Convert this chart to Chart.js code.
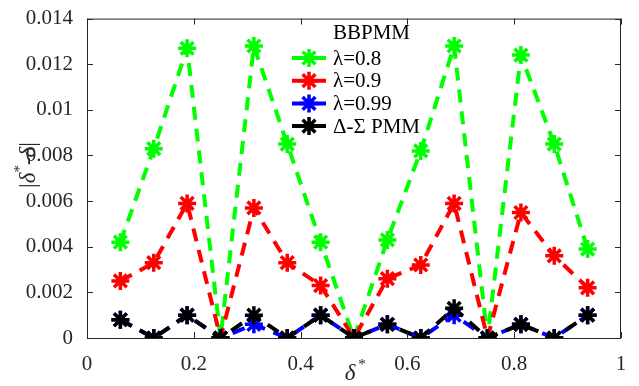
<!DOCTYPE html>
<html>
<head>
<meta charset="utf-8">
<script src="https://cdn.jsdelivr.net/npm/chart.js@4"></script>
<style>
  html, body { margin: 0; padding: 0; background: #fff; }
  #wrap { width: 639px; height: 386px; }
</style>
</head>
<body>
<div id="wrap"><canvas id="c" width="639" height="386"></canvas></div>
<script>
// delta* positions (k/16)
const deltaStar = [0.0625, 0.125, 0.1875, 0.25, 0.3125, 0.375, 0.4375, 0.5,
  0.5625, 0.625, 0.6875, 0.75, 0.8125, 0.875, 0.9375];

// |delta* - delta| for each case
const lambda08 = [0.0042, 0.0083, 0.0127, 0.0, 0.0128, 0.0085, 0.0042, 0.0,
  0.0043, 0.0082, 0.0128, 0.0, 0.0124, 0.0085, 0.0039];
const lambda09 = [0.0025, 0.0033, 0.0059, 0.0, 0.0057, 0.0033, 0.0023, 0.0,
  0.0026, 0.0032, 0.0059, 0.0, 0.0055, 0.0036, 0.0022];
const lambda099 = [0.0008, 0.0, 0.001, 0.0, 0.0006, 0.0, 0.001, 0.0,
  0.0006, 0.0, 0.001, 0.0, 0.0006, 0.0, 0.001];
const deltaSigma = [0.0008, 0.0, 0.001, 0.0, 0.001, 0.0, 0.001, 0.0,
  0.0006, 0.0, 0.0013, 0.0, 0.0006, 0.0, 0.001];

const seriesNames = ['λ=0.8', 'λ=0.9', 'λ=0.99', 'Δ-Σ PMM'];
const seriesColors = ['#00ff00', '#ff0000', '#0000ff', '#000000'];
const legendTitle = 'BBPMM';
const xTickLabels = ['0', '0.2', '0.4', '0.6', '0.8', '1'];

const FONT = '"Times New Roman", "Liberation Serif", Tinos, serif';
const AXIS = '#262626';

const toPoints = (ys) => ys.map((y, i) => ({ x: deltaStar[i], y: y }));

const makeSet = (idx, ys, order) => ({
  label: seriesNames[idx],
  data: toPoints(ys),
  borderColor: seriesColors[idx],
  backgroundColor: seriesColors[idx],
  borderWidth: 4,
  borderDash: [13, 9],
  pointStyle: 'star',
  pointRadius: 9,
  pointBorderWidth: 3.5,
  pointHoverRadius: 9,
  fill: false,
  tension: 0,
  order: order,
});

// frame, inside ticks, axis titles and legend
const matlabLook = {
  id: 'matlabLook',
  afterDraw(chart) {
    const ctx = chart.ctx;
    const a = chart.chartArea;
    const xs = chart.scales.x;
    const ys = chart.scales.y;
    ctx.save();
    ctx.strokeStyle = AXIS;
    ctx.lineWidth = 1;
    ctx.strokeRect(a.left + 0.5, a.top + 0.5, a.right - a.left - 1, a.bottom - a.top);

    const tl = 6;
    ctx.beginPath();
    xs.ticks.forEach((t) => {
      const px = Math.round(xs.getPixelForValue(t.value)) + 0.5;
      ctx.moveTo(px, a.bottom); ctx.lineTo(px, a.bottom - tl);
      ctx.moveTo(px, a.top); ctx.lineTo(px, a.top + tl);
    });
    ys.ticks.forEach((t) => {
      const py = Math.round(ys.getPixelForValue(t.value)) + 0.5;
      ctx.moveTo(a.left, py); ctx.lineTo(a.left + tl, py);
      ctx.moveTo(a.right, py); ctx.lineTo(a.right - tl, py);
    });
    ctx.stroke();

    // x title: delta*
    ctx.fillStyle = AXIS;
    ctx.textBaseline = 'alphabetic';
    ctx.textAlign = 'left';
    const cx = (a.left + a.right) / 2;
    ctx.font = 'italic 23px ' + FONT;
    const dw = ctx.measureText('δ').width;
    ctx.fillText('δ', cx - dw / 2 - 4, 380);
    ctx.font = '15px ' + FONT;
    ctx.fillText('*', cx + dw / 2 - 1, 369);

    // y title: |delta*-delta|
    ctx.save();
    ctx.translate(35, 165);
    ctx.rotate(-Math.PI / 2);
    const parts = [
      { t: '|', f: '23px ' + FONT, dy: 0 },
      { t: 'δ', f: 'italic 23px ' + FONT, dy: 0 },
      { t: '*', f: '15px ' + FONT, dy: -11 },
      { t: '-', f: '23px ' + FONT, dy: 0 },
      { t: 'δ', f: 'italic 23px ' + FONT, dy: 0 },
      { t: '|', f: '23px ' + FONT, dy: 0 },
    ];
    let total = 0;
    parts.forEach((p) => { ctx.font = p.f; p.w = ctx.measureText(p.t).width; total += p.w; });
    let px = -total / 2;
    parts.forEach((p) => {
      ctx.font = p.f;
      ctx.fillText(p.t, px, p.dy);
      px += p.w;
    });
    ctx.restore();

    // legend
    const lx0 = 292, lx1 = 326, tx = 333;
    ctx.font = '21px ' + FONT;
    ctx.fillStyle = '#000';
    ctx.textBaseline = 'middle';
    ctx.fillText(legendTitle, tx, 33);
    chart.data.datasets.forEach((ds, i) => {
      const y = 58 + i * 22.7;
      ctx.strokeStyle = ds.borderColor;
      ctx.lineWidth = 4;
      ctx.setLineDash([]);
      ctx.beginPath();
      ctx.moveTo(lx0, y); ctx.lineTo(lx1, y);
      ctx.stroke();
      ctx.lineWidth = 3.5;
      Chart.helpers.drawPoint(ctx, { pointStyle: 'star', radius: 9, borderWidth: 3.5 }, (lx0 + lx1) / 2, y);
      ctx.fillStyle = '#000';
      ctx.fillText(ds.label, tx, y + 1);
    });
    ctx.restore();
  },
};

const cfg = {
  type: 'line',
  data: {
    datasets: [
      makeSet(0, lambda08, 4),
      makeSet(1, lambda09, 3),
      makeSet(2, lambda099, 2),
      makeSet(3, deltaSigma, 1),
    ],
  },
  options: {
    responsive: false,
    animation: false,
    events: [],
    layout: { padding: { top: 12, right: 18, left: 0, bottom: 0 } },
    plugins: {
      legend: { display: false },
      tooltip: { enabled: false },
    },
    scales: {
      x: {
        type: 'linear',
        min: 0,
        max: 1,
        grid: { display: false },
        border: { display: false },
        afterFit: (s) => { s.height = 48; },
        afterBuildTicks: (s) => { s.ticks = xTickLabels.map((l) => ({ value: Number(l) })); },
        ticks: {
          padding: 6,
          color: AXIS,
          font: { family: FONT, size: 21 },
          callback: (v) => xTickLabels[Math.round(v * 5)],
        },
      },
      y: {
        min: 0,
        max: 0.014,
        grid: { display: false },
        border: { display: false },
        afterFit: (s) => { s.width = 87; },
        ticks: {
          stepSize: 0.002,
          padding: 6,
          color: AXIS,
          font: { family: FONT, size: 21 },
          callback: (v) => String(Number(v.toFixed(3))),
        },
      },
    },
  },
  plugins: [matlabLook],
};

new Chart(document.getElementById('c'), cfg);
</script>
</body>
</html>
